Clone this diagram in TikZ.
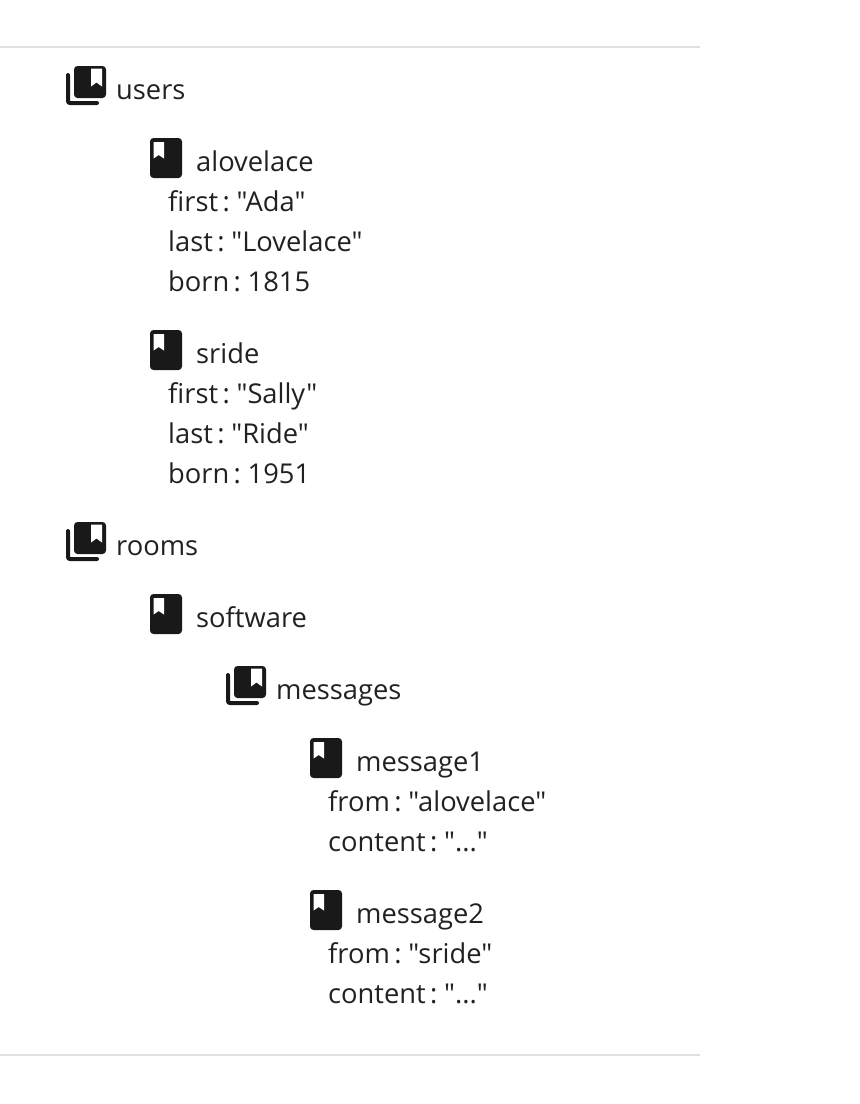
\documentclass[tikz,border=0pt]{standalone}
\usepackage{fontspec}
\newfontfamily\labelfont[WordSpace=0.62]{Open Sans}
\definecolor{inkdark}{HTML}{202124}
\tikzset{
  label/.style={anchor=base west,inner sep=0pt,font=\labelfont\fontsize{27.3}{32}\selectfont,text=inkdark},
  rule/.style={draw=black!12,line width=2pt},
  pics/doc/.style={code={
    \fill[fill=black!90,rounded corners=3.5pt] (0,0) rectangle (32,40);
    \fill[white] (3.5,4) -- (14,4) -- (14,20.5) -- (8.75,17) -- (3.5,20.5) -- cycle;
  }},
  pics/coll/.style={code={
    \draw[black!90,line width=4pt,line cap=round,rounded corners=2pt] (2,9) -- (2,37) -- (31,37);
    \fill[fill=black!90,rounded corners=3.5pt] (8,0) rectangle (40,32);
    \fill[white] (25,2.5) -- (36,2.5) -- (36,20.5) -- (30.5,16.5) -- (25,20.5) -- cycle;
  }}
}
\begin{document}
\begin{tikzpicture}[x=1pt,y=-1pt]
  \useasboundingbox (0,0) rectangle (860,1104);
  \coordinate (ruletopa) at (0,47);
  \coordinate (ruletopb) at (700,47);
  \coordinate (rulebota) at (0,1055);
  \coordinate (rulebotb) at (700,1055);
  \draw[rule] (ruletopa) -- (ruletopb);
  \draw[rule] (rulebota) -- (rulebotb);
  % collections and documents
  \pic at (66,66) {coll};
  \node[label] (users) at (116,99) {users};
  \pic at (150,138) {doc};
  \node[label] (alovelace) at (196,171) {alovelace};
  \node[label] (first1) at (168,211) {first : "Ada"};
  \node[label] (last1) at (168,251) {last : "Lovelace"};
  \node[label] (born1) at (168,291) {born : 1815};
  \pic at (150,330) {doc};
  \node[label] (sride) at (196,363) {sride};
  \node[label] (first2) at (168,403) {first : "Sally"};
  \node[label] (last2) at (168,443) {last : "Ride"};
  \node[label] (born2) at (168,483) {born : 1951};
  \pic at (66,522) {coll};
  \node[label] (rooms) at (116,555) {rooms};
  \pic at (150,594) {doc};
  \node[label] (software) at (196,627) {software};
  \pic at (226,666) {coll};
  \node[label] (messages) at (276,699) {messages};
  \pic at (310,738) {doc};
  \node[label] (message1) at (356,771) {message1};
  \node[label] (from1) at (328,811) {from : "alovelace"};
  \node[label] (content1) at (328,851) {content : "..."};
  \pic at (310,890) {doc};
  \node[label] (message2) at (356,923) {message2};
  \node[label] (from2) at (328,963) {from : "sride"};
  \node[label] (content2) at (328,1003) {content : "..."};
\end{tikzpicture}
\end{document}
